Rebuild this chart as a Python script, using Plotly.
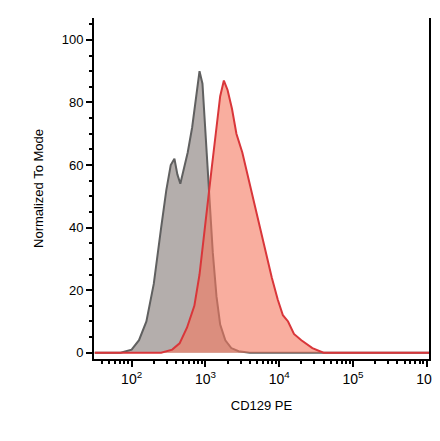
import plotly.graph_objects as go

# log10 of fluorescence, normalized counts
iso_log = [1.5, 1.85, 2.0, 2.1, 2.2, 2.3, 2.4, 2.47, 2.53, 2.58, 2.62, 2.66, 2.7, 2.76, 2.82, 2.88, 2.92, 2.96, 3.0, 3.05, 3.1, 3.15, 3.2, 3.27, 3.35, 3.45, 3.6, 6.1]
iso_val = [0, 0, 1, 4, 10, 22, 40, 52, 60, 62, 57, 54, 58, 64, 72, 82, 90, 86, 70, 50, 32, 18, 9, 4, 1.5, 0.5, 0, 0]
cd_log = [1.5, 2.4, 2.55, 2.65, 2.75, 2.85, 2.92, 2.98, 3.03, 3.08, 3.14, 3.2, 3.25, 3.3, 3.36, 3.42, 3.5, 3.58, 3.66, 3.74, 3.82, 3.9, 3.98, 4.05, 4.12, 4.2, 4.3, 4.45, 4.6, 6.1]
cd_val = [0, 0, 1, 3, 8, 15, 25, 38, 48, 58, 70, 82, 87, 84, 78, 70, 64, 56, 47, 40, 32, 24, 17, 12, 10, 6, 4, 1.5, 0, 0]

fig = go.Figure()
fig.add_trace(go.Scatter(x=[10**v for v in iso_log], y=iso_val, mode="lines", fill="tozeroy",
                         line=dict(color="#606060", width=2), fillcolor="rgba(140,130,128,0.65)"))
fig.add_trace(go.Scatter(x=[10**v for v in cd_log], y=cd_val, mode="lines", fill="tozeroy",
                         line=dict(color="#d9363a", width=2), fillcolor="rgba(245,120,95,0.6)"))

fig.update_layout(
    width=440, height=441, showlegend=False, plot_bgcolor="white", paper_bgcolor="white",
    margin=dict(l=86, r=12, t=10, b=90),
    font=dict(family="Liberation Sans, Arial", size=12, color="black"),
)
fig.update_xaxes(type="log", range=[1.49, 6.03], showgrid=False, showline=True, linecolor="black",
                 linewidth=2, ticks="outside", tickcolor="black", ticklen=6, tickwidth=2,
                 tickvals=[100, 1000, 10000, 100000, 1000000],
                 ticktext=["10<sup>2</sup>", "10<sup>3</sup>", "10<sup>4</sup>", "10<sup>5</sup>", "10<sup>6</sup>"],
                 tickfont=dict(size=14),
                 minor=dict(ticks="outside", ticklen=3, tickcolor="black", dtick="D1"),
                 title=dict(text="CD129 PE", font=dict(size=13)), zeroline=False)
fig.update_yaxes(range=[-2, 107], showgrid=False, showline=True, linecolor="black", linewidth=2,
                 mirror=True, ticks="outside", tickcolor="black", ticklen=6, tickwidth=2,
                 tickvals=[0, 20, 40, 60, 80, 100], tickfont=dict(size=13),
                 minor=dict(ticks="outside", ticklen=3, tickcolor="black", dtick=5),
                 title=dict(text="Normalized To Mode", font=dict(size=13)), zeroline=False)

fig.write_html("out.html")
